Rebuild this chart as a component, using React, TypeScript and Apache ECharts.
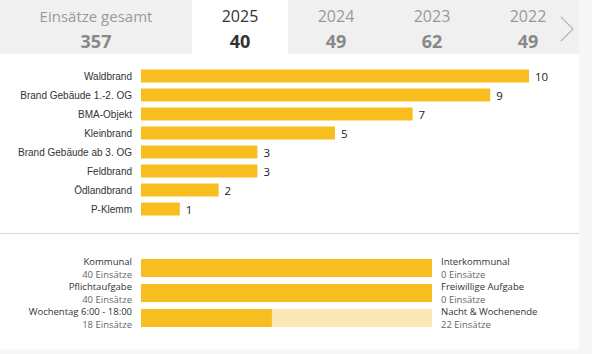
import React, { useEffect, useRef } from "react";
import * as echarts from "echarts";

const tabLabels = ["Einsätze gesamt", "2025", "2024", "2023", "2022"];
const tabValues = [357, 40, 49, 62, 49];
const activeTab = 1;

const categories = [
  "Waldbrand",
  "Brand Gebäude 1.-2. OG",
  "BMA-Objekt",
  "Kleinbrand",
  "Brand Gebäude ab 3. OG",
  "Feldbrand",
  "Ödlandbrand",
  "P-Klemm",
];
const counts = [10, 9, 7, 5, 3, 3, 2, 1];

const splitLeftNames = ["Kommunal", "Pflichtaufgabe", "Wochentag 6:00 - 18:00"];
const splitLeftCounts = [40, 40, 18];
const splitRightNames = ["Interkommunal", "Freiwillige Aufgabe", "Nacht & Wochenende"];
const splitRightCounts = [0, 0, 22];

const YELLOW = "#F8BD1F";
const LIGHT = "#FCE7B7";
const UI_FONT = "'Open Sans', 'Noto Sans', sans-serif";
const ARIAL = "'Liberation Sans', Arial, sans-serif";

export default function App() {
  const ref = useRef<HTMLDivElement>(null);
  useEffect(() => {
    if (!ref.current) return;
    const chart = echarts.init(ref.current, null, { renderer: "svg" });

    const tabWidths = [192, 96, 96, 96, 96];
    const graphics: any[] = [
      { type: "rect", shape: { x: 0, y: 0, width: 579, height: 349 }, style: { fill: "#ffffff" }, silent: true, z: -10 },
      { type: "rect", shape: { x: 0, y: 0, width: 579, height: 54 }, style: { fill: "#F0F0F0" }, silent: true, z: -9 },
      { type: "line", shape: { x1: 0, y1: 233.5, x2: 579, y2: 233.5 }, style: { stroke: "#D9D9D9", lineWidth: 1 }, silent: true },
      { type: "polyline", shape: { points: [[561, 17], [573, 29], [561, 41]] }, style: { stroke: "#B5B5B5", lineWidth: 1.2, fill: null }, silent: true },
    ];
    let x0 = 0;
    tabLabels.forEach((lab, i) => {
      const w = tabWidths[i];
      const cx = x0 + w / 2;
      const active = i === activeTab;
      if (active) {
        graphics.push({ type: "rect", shape: { x: x0, y: 0, width: w, height: 54 }, style: { fill: "#ffffff" }, silent: true, z: -8 });
      }
      graphics.push({
        type: "text",
        x: cx,
        y: 16,
        style: {
          text: lab,
          fontFamily: UI_FONT,
          fontSize: i === 0 ? 15 : 16,
          fill: active ? "#333333" : "#9A9A9A",
          align: "center",
          verticalAlign: "middle",
        },
        silent: true,
      });
      graphics.push({
        type: "text",
        x: cx,
        y: 41,
        style: {
          text: String(tabValues[i]),
          fontFamily: UI_FONT,
          fontSize: 18,
          fontWeight: "bold",
          fill: active ? "#333333" : "#888888",
          align: "center",
          verticalAlign: "middle",
        },
        silent: true,
      });
      x0 += w;
    });

    const splitTotals = splitLeftCounts.map((v, i) => v + splitRightCounts[i]);

    const splitAxis = (
      labels: string[],
      position: "left" | "right",
      kind: "name" | "count"
    ) => ({
      gridIndex: 1,
      type: "category",
      data: labels,
      inverse: true,
      position,
      axisLine: { show: false },
      axisTick: { show: false },
      axisLabel: {
        margin: 9,
        align: position === "left" ? "right" : "left",
        verticalAlign: kind === "name" ? "bottom" : "top",
        padding: kind === "name" ? [0, 0, 1.5, 0] : [1.5, 0, 0, 0],
        fontFamily: UI_FONT,
        fontSize: 9.5,
        lineHeight: 10,
        color: kind === "name" ? "#333333" : "#666666",
      },
    });

    const countText = (arr: number[]) => arr.map((v) => `${v} Einsätze`);

    chart.setOption({
      animation: false,
      backgroundColor: "#F7F7F7",
      graphic: graphics,
      grid: [
        { left: 141, right: 63, top: 66.5, height: 152 },
        { left: 141, right: 160, top: 255.5, height: 75 },
      ],
      xAxis: [
        { gridIndex: 0, type: "value", min: 0, max: 10, show: false },
        { gridIndex: 1, type: "value", min: 0, max: 40, show: false },
      ],
      yAxis: [
        {
          gridIndex: 0,
          type: "category",
          data: categories,
          inverse: true,
          axisLine: { show: false },
          axisTick: { show: false },
          axisLabel: { fontFamily: ARIAL, fontSize: 10, color: "#333333", margin: 9 },
        },
        splitAxis(splitLeftNames, "left", "name"),
        splitAxis(countText(splitLeftCounts), "left", "count"),
        splitAxis(splitRightNames, "right", "name"),
        splitAxis(countText(splitRightCounts), "right", "count"),
      ],
      series: [
        {
          type: "bar",
          xAxisIndex: 0,
          yAxisIndex: 0,
          data: counts,
          barWidth: 13,
          itemStyle: { color: YELLOW },
          label: { show: true, position: "right", distance: 6, fontFamily: UI_FONT, fontSize: 11.5, color: "#222222" },
        },
        {
          type: "bar",
          xAxisIndex: 1,
          yAxisIndex: 1,
          stack: "split",
          data: splitLeftCounts.map((v, i) => (splitTotals[i] ? v : 0)),
          barWidth: 18,
          itemStyle: { color: YELLOW },
        },
        {
          type: "bar",
          xAxisIndex: 1,
          yAxisIndex: 1,
          stack: "split",
          data: splitRightCounts,
          barWidth: 18,
          itemStyle: { color: LIGHT },
        },
      ],
    });
    return () => chart.dispose();
  }, []);
  return <div ref={ref} style={{ position: "absolute", left: 0, top: 0, width: 592, height: 354 }} />;
}
